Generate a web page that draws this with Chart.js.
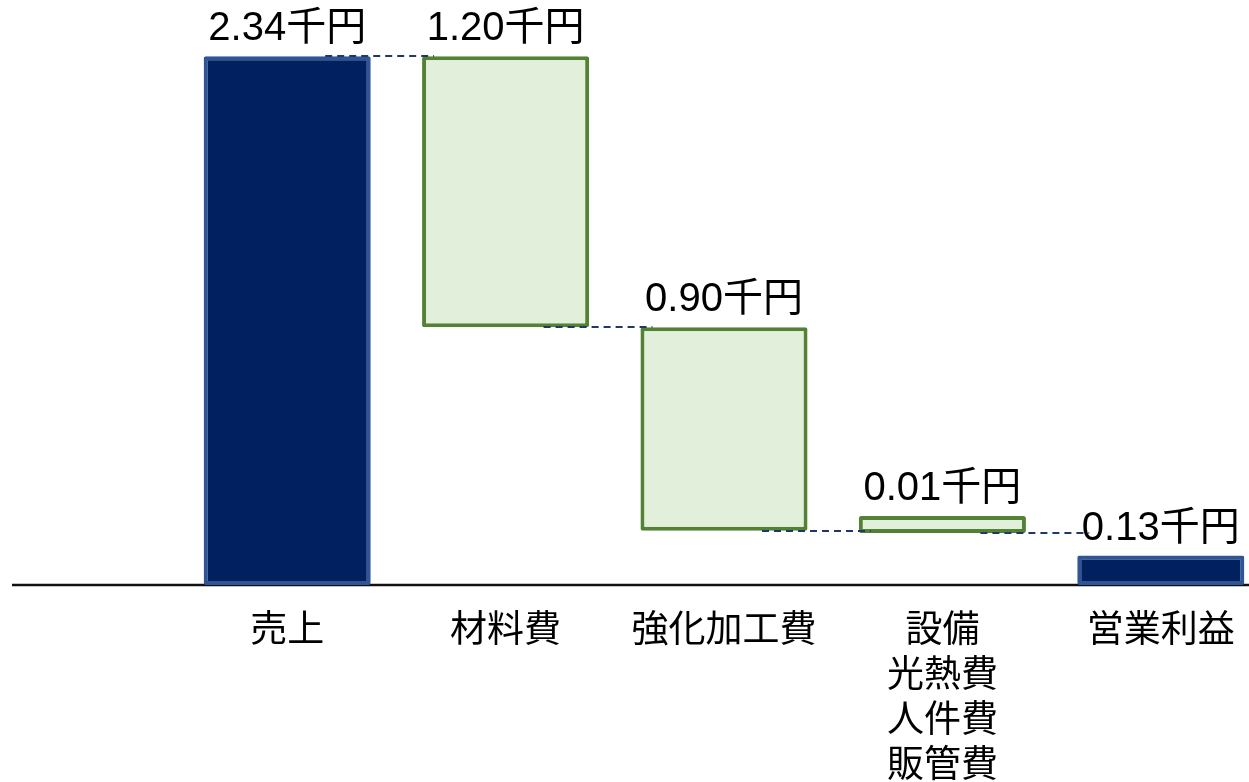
<!DOCTYPE html>
<html lang="ja">
<head>
<meta charset="utf-8">
<title>営業利益の内訳</title>
<script src="https://cdn.jsdelivr.net/npm/chart.js@4.4.1/dist/chart.umd.min.js"></script>
<style>
  html, body { margin: 0; padding: 0; background: #ffffff; overflow: hidden; }
  #wrap { width: 1270px; height: 782px; }
</style>
</head>
<body>
<div id="wrap"><canvas id="chart" width="1270" height="782"></canvas></div>
<script>
// Categories (x-axis labels, multi-line where needed)
const categories = [
  ['売上'],
  ['材料費'],
  ['強化加工費'],
  ['設備', '光熱費', '人件費', '販管費'],
  ['営業利益']
];
// Amount of each step, in 千円
const amounts = [2.34, 1.20, 0.90, 0.01, 0.13];
// 'total' bars stand on zero, 'cost' bars hang down from the running total
const barKinds = ['total', 'cost', 'cost', 'cost', 'total'];
const unit = '千円';

// Invisible base for the floating cost bars, and the level each step ends at
const bases = [];
const levels = [];
let running = 0;
amounts.forEach((v, i) => {
  if (barKinds[i] === 'total') {
    bases.push(0);
    running = v;
    levels.push(v);
  } else {
    running = +(running - v).toFixed(4);
    bases.push(running);
    levels.push(running);
  }
});

const NAVY_FILL = '#002060';
const NAVY_EDGE = '#2F5597';
const GREEN_FILL = '#E2EFDA';
const GREEN_EDGE = '#548235';

// Baseline across the full width at the zero level
const baselinePlugin = {
  id: 'baseline',
  beforeDatasetsDraw(chart) {
    const { ctx } = chart;
    const y = Math.round(chart.scales.y.getPixelForValue(0));
    ctx.save();
    ctx.strokeStyle = '#111111';
    ctx.lineWidth = 2.5;
    ctx.beginPath();
    ctx.moveTo(12, y);
    ctx.lineTo(chart.width, y);
    ctx.stroke();
    ctx.restore();
  }
};

// Dashed connectors between consecutive steps, and value labels on top
const waterfallPlugin = {
  id: 'waterfall',
  afterDatasetsDraw(chart) {
    const { ctx } = chart;
    const meta = chart.getDatasetMeta(1);
    const yScale = chart.scales.y;
    ctx.save();
    // connectors
    ctx.strokeStyle = '#1F3864';
    ctx.lineWidth = 2;
    ctx.setLineDash([7, 5]);
    for (let i = 0; i < meta.data.length - 1; i++) {
      const a = meta.data[i];
      const b = meta.data[i + 1];
      const y = Math.round(yScale.getPixelForValue(levels[i]));
      ctx.beginPath();
      ctx.moveTo(a.x + 38, y);
      ctx.lineTo(b.x - b.width / 2 + 12, y);
      ctx.stroke();
    }
    ctx.setLineDash([]);
    // value labels
    ctx.fillStyle = '#000000';
    ctx.font = "40px 'Liberation Sans', 'Noto Sans CJK JP', sans-serif";
    ctx.textAlign = 'center';
    ctx.textBaseline = 'alphabetic';
    meta.data.forEach((bar, i) => {
      const top = Math.min(bar.y, bar.base);
      ctx.fillText(amounts[i].toFixed(2) + unit, bar.x, top - 16);
    });
    ctx.restore();
  }
};

new Chart(document.getElementById('chart'), {
  type: 'bar',
  data: {
    labels: categories,
    datasets: [
      {
        label: 'base',
        data: bases,
        backgroundColor: 'rgba(0,0,0,0)',
        borderWidth: 0,
        barPercentage: 0.765,
        categoryPercentage: 1.0
      },
      {
        label: '金額',
        data: amounts,
        backgroundColor: ctx => barKinds[ctx.dataIndex] === 'total' ? NAVY_FILL : GREEN_FILL,
        borderColor: ctx => barKinds[ctx.dataIndex] === 'total' ? NAVY_EDGE : GREEN_EDGE,
        borderWidth: 4,
        borderSkipped: false,
        borderRadius: 2,
        minBarLength: 17,
        barPercentage: 0.765,
        categoryPercentage: 1.0
      }
    ]
  },
  options: {
    responsive: false,
    animation: false,
    devicePixelRatio: 1,
    layout: { padding: { left: 178, right: 0, top: 20, bottom: 0 } },
    plugins: {
      legend: { display: false },
      tooltip: { enabled: false }
    },
    events: [],
    scales: {
      x: {
        stacked: true,
        offset: true,
        grid: { display: false, drawTicks: false },
        border: { display: false },
        afterFit(scale) { scale.height = 197; },
        ticks: {
          autoSkip: false,
          maxRotation: 0,
          minRotation: 0,
          padding: 20,
          color: '#000000',
          font: { family: "'Noto Sans CJK JP', sans-serif", size: 37, lineHeight: 1.22 }
        }
      },
      y: {
        stacked: true,
        display: false,
        min: 0,
        max: 2.5
      }
    }
  },
  plugins: [baselinePlugin, waterfallPlugin]
});
</script>
</body>
</html>
